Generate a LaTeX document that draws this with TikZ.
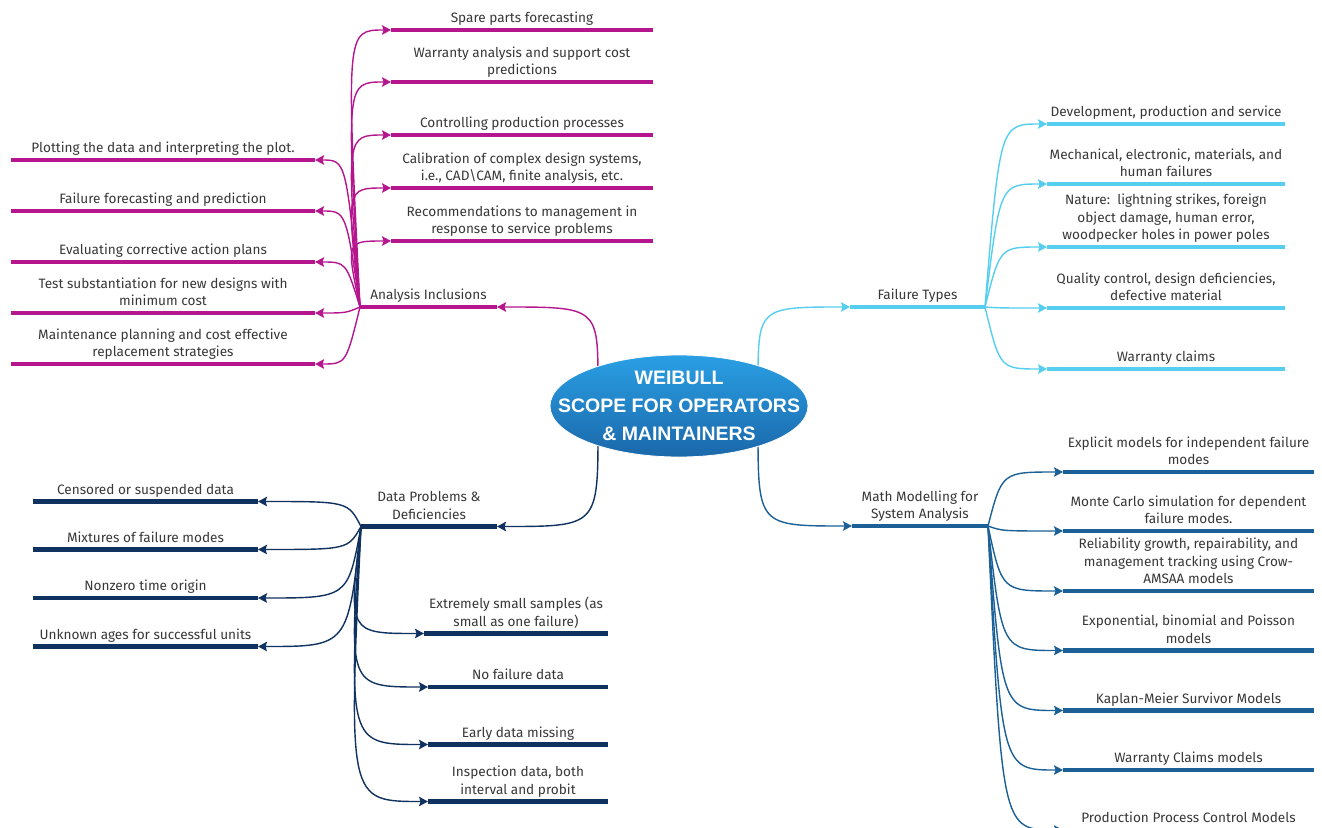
\documentclass[tikz,border=0pt]{standalone}
\usepackage{fontspec}
\setmainfont{Fira Sans}
\newfontfamily\rootfont{Liberation Sans}
\usetikzlibrary{arrows.meta,calc,shapes.geometric}
\definecolor{magc}{HTML}{B5168E}
\definecolor{cyc}{HTML}{56CEF0}
\definecolor{nvc}{HTML}{103260}
\definecolor{mmc}{HTML}{1B6096}
\definecolor{txtc}{HTML}{383838}
\definecolor{roottop}{HTML}{2A9FE4}
\definecolor{rootbot}{HTML}{1A68AA}
\tikzset{
  barbase/.style={rectangle, inner sep=0pt, outer sep=0pt, minimum height=4.5pt},
  magbar/.style={barbase, fill=magc},
  cybar/.style={barbase, fill=cyc},
  nvbar/.style={barbase, fill=nvc},
  mmbar/.style={barbase, fill=mmc},
  lbl/.style={inner sep=0pt, text depth=0pt, align=center, text=txtc,
    font=\fontsize{13.6}{17.6}\selectfont},
  conn/.style={line width=1.4pt, -{Stealth[length=9pt,width=9.5pt,inset=1.5pt]}},
  magconn/.style={conn, draw=magc},
  cyconn/.style={conn, draw=cyc},
  nvconn/.style={conn, draw=nvc},
  mmconn/.style={conn, draw=mmc},
  rootshape/.style={ellipse, minimum width=258pt, minimum height=102pt, inner sep=0pt,
    top color=roottop, bottom color=rootbot, draw=white, line width=0.8pt},
  roottext/.style={align=center, text=white, inner sep=0pt,
    font=\rootfont\bfseries\fontsize{19.5}{28}\selectfont}
}
% #1 name, #2 bar style, #3 x start, #4 x end, #5 y, #6 text
\newcommand{\leafbar}[6]{%
  \pgfmathsetmacro\myleafw{#4-#3}%
  \node[#2, minimum width=\myleafw pt, anchor=west] (#1) at (#3,#5) {};
  \node[lbl, anchor=south] (#1-t) at ($(#1.north)+(0,-4.8)$) {#6};
}
% #1 style, #2 hub, #3 trunk coordinate, #4 target anchor
\newcommand{\fanconn}[4]{%
  \draw[#1] (#2) .. controls (#3 |- #4) and (#3 |- #4) .. (#4);
}
\begin{document}
\begin{tikzpicture}[x=1pt,y=-1pt]
\path[use as bounding box] (0,0) rectangle (1322,827);
\clip (0,0) rectangle (1322,827);
\fill[white] (0,0) rectangle (1322,827);

% trunk coordinates
\coordinate (tmag) at (346,0);
\coordinate (tcy) at (1000,0);
\coordinate (tnv) at (348,0);
\coordinate (tmm) at (1002,0);
\coordinate (rmag) at (598,385);
\coordinate (rcy) at (758,385);
\coordinate (rnv) at (598,428);
\coordinate (rmm) at (758,428);

% ---------- Analysis Inclusions (magenta)
\leafbar{ai}{magbar}{360}{497}{307}{Analysis Inclusions}
\leafbar{m1}{magbar}{391}{653}{30}{Spare parts forecasting}
\leafbar{m2}{magbar}{391}{653}{82}{Warranty analysis and support cost\\predictions}
\leafbar{m3}{magbar}{391}{653}{135}{Controlling production processes}
\leafbar{m4}{magbar}{391}{653}{188}{Calibration of complex design systems,\\i.e., CAD\textbackslash CAM, finite analysis, etc.}
\leafbar{m5}{magbar}{391}{653}{241}{Recommendations to management in\\response to service problems}
\leafbar{m6}{magbar}{11}{315}{160}{Plotting the data and interpreting the plot.}
\leafbar{m7}{magbar}{11}{315}{211}{Failure forecasting and prediction}
\leafbar{m8}{magbar}{11}{315}{262}{Evaluating corrective action plans}
\leafbar{m9}{magbar}{11}{315}{313}{Test substantiation for new designs with\\minimum cost}
\leafbar{m10}{magbar}{11}{315}{364}{Maintenance planning and cost effective\\replacement strategies}
\foreach \n in {m1,m2,m3,m4,m5}{\fanconn{magconn}{ai.west}{tmag}{\n.west}}
\foreach \n in {m6,m7,m8,m9,m10}{\fanconn{magconn}{ai.west}{tmag}{\n.east}}

% ---------- Failure Types (cyan)
\leafbar{ft}{cybar}{850}{985}{307}{Failure Types}
\leafbar{c1}{cybar}{1047}{1285}{124}{Development, production and service}
\leafbar{c2}{cybar}{1047}{1285}{184}{Mechanical, electronic, materials, and\\human failures}
\leafbar{c3}{cybar}{1047}{1285}{247}{Nature:\ \ lightning strikes, foreign\\object damage, human error,\\woodpecker holes in power poles}
\leafbar{c4}{cybar}{1047}{1285}{308}{Quality control, design deficiencies,\\defective material}
\leafbar{c5}{cybar}{1047}{1285}{369}{Warranty claims}
\foreach \n in {c1,c2,c3,c4,c5}{\fanconn{cyconn}{ft.east}{tcy}{\n.west}}

% ---------- Data Problems (navy)
\leafbar{dp}{nvbar}{361}{497}{526.5}{Data Problems \&\\Deficiencies}
\leafbar{n1}{nvbar}{33}{258}{501.5}{Censored or suspended data}
\leafbar{n2}{nvbar}{33}{258}{549.5}{Mixtures of failure modes}
\leafbar{n3}{nvbar}{33}{258}{598}{Nonzero time origin}
\leafbar{n4}{nvbar}{33}{258}{646.5}{Unknown ages for successful units}
\leafbar{n5}{nvbar}{424}{608}{633.5}{Extremely small samples (as\\small as one failure)}
\leafbar{n6}{nvbar}{428}{608}{687}{No failure data}
\leafbar{n7}{nvbar}{428}{608}{744.5}{Early data missing}
\leafbar{n8}{nvbar}{428}{608}{801.5}{Inspection data, both\\interval and probit}
\foreach \n in {n1,n2,n3,n4}{\fanconn{nvconn}{dp.west}{tnv}{\n.east}}
\foreach \n in {n5,n6,n7,n8}{\fanconn{nvconn}{dp.west}{tnv}{\n.west}}

% ---------- Math Modelling (blue)
\leafbar{mm}{mmbar}{852}{988}{526}{Math Modelling for\\System Analysis}
\leafbar{b1}{mmbar}{1063}{1314}{472}{Explicit models for independent failure\\modes}
\leafbar{b2}{mmbar}{1063}{1314}{531}{Monte Carlo simulation for dependent\\failure modes.}
\leafbar{b3}{mmbar}{1063}{1314}{591}{Reliability growth, repairability, and\\management tracking using Crow-\\AMSAA models}
\leafbar{b4}{mmbar}{1063}{1314}{650.5}{Exponential, binomial and Poisson\\models}
\leafbar{b5}{mmbar}{1063}{1314}{710.5}{Kaplan-Meier Survivor Models}
\leafbar{b6}{mmbar}{1063}{1314}{770}{Warranty Claims models}
\leafbar{b7}{mmbar}{1063}{1314}{830}{Production Process Control Models}
\foreach \n in {b1,b2,b3,b4,b5,b6,b7}{\fanconn{mmconn}{mm.east}{tmm}{\n.west}}

% ---------- root connectors
\fanconn{magconn}{rmag}{rmag}{ai.east}
\fanconn{cyconn}{rcy}{rcy}{ft.west}
\fanconn{nvconn}{rnv}{rnv}{dp.east}
\fanconn{mmconn}{rmm}{rmm}{mm.west}

% ---------- root
\node[rootshape] (root) at (679,406) {};
\node[roottext] (root-t) at (root.center) {WEIBULL\\SCOPE FOR OPERATORS\\\& MAINTAINERS};
\end{tikzpicture}
\end{document}
